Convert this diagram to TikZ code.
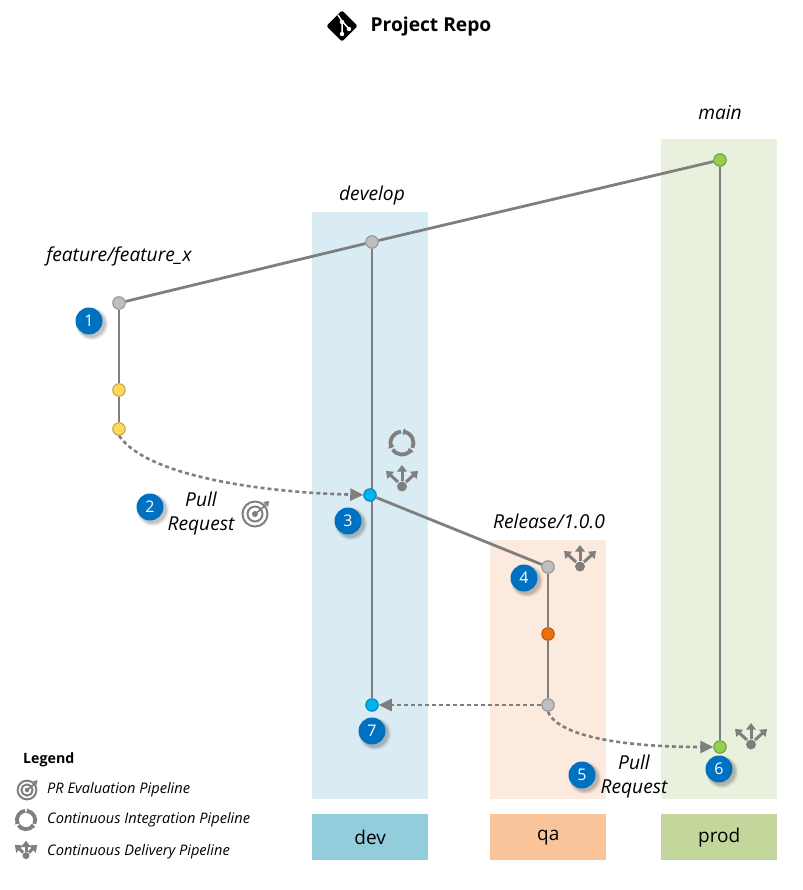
\documentclass[tikz,border=0pt]{standalone}
\usepackage{fontspec}
\setmainfont{Open Sans}
\usetikzlibrary{arrows.meta,shadows}

\definecolor{linegray}{HTML}{7F7F7F}
\definecolor{badgeblue}{HTML}{0070C0}
\definecolor{devband}{HTML}{DAECF3}
\definecolor{qaband}{HTML}{FCEADE}
\definecolor{prodband}{HTML}{E9F0DE}
\definecolor{devfill}{HTML}{92CDDC}
\definecolor{qafill}{HTML}{F9C499}
\definecolor{prodfill}{HTML}{C3D69B}
\definecolor{graydot}{HTML}{BFBFBF}
\definecolor{yellowdot}{HTML}{FFD85C}
\definecolor{bluedot}{HTML}{00B0F0}
\definecolor{greendot}{HTML}{92D050}
\definecolor{orangedot}{HTML}{ED7010}

\begin{document}
\begin{tikzpicture}[x=1pt,y=-1pt,
		band/.style={draw=none, minimum width=116pt, anchor=north west, inner sep=0pt},
		envbox/.style={band, minimum height=46pt, font=\fontsize{19}{22}\selectfont},
		dot/.style={circle, draw=#1!75!black, fill=#1, line width=1pt, minimum size=12.5pt, inner sep=0pt},
		badge/.style={circle, fill=badgeblue, text=white, minimum size=27pt, inner sep=0pt, font=\fontsize{16}{18}\selectfont,
			drop shadow={shadow xshift=2.5pt, shadow yshift=-2.5pt, shadow scale=1.2, fill=black, opacity=.06},
			drop shadow={shadow xshift=2.5pt, shadow yshift=-2.5pt, shadow scale=1.12, fill=black, opacity=.08},
			drop shadow={shadow xshift=2.5pt, shadow yshift=-2.5pt, shadow scale=1.04, fill=black, opacity=.12}},
		branch/.style={font=\fontsize{19.2}{24}\selectfont\itshape, align=center},
		legendtext/.style={anchor=west, inner sep=0pt, font=\fontsize{14.6}{16}\selectfont\itshape},
		commit/.style={draw=linegray, line width=2.8pt},
		merge/.style={draw=linegray, line width=2.6pt, dash pattern=on 4pt off 3pt, -{Triangle[length=13pt,width=12pt]}},
		pics/cdicon/.style={code={
			\fill[linegray] (0,9.5) circle (5pt);
			\draw[linegray, line width=3pt, -{Triangle[length=6.5pt,width=9.5pt]}] (0,4) -- (0,-12);
			\draw[linegray, line width=3pt, -{Triangle[length=6.5pt,width=9.5pt]}] (-4,5) -- (-16,-6);
			\draw[linegray, line width=3pt, -{Triangle[length=6.5pt,width=9.5pt]}] (4,5) -- (16,-6);
		}},
		pics/ciicon/.style={code={
			\draw[linegray, line width=3.8pt] (-85:11.5) arc (-85:25:11.5);
			\draw[linegray, line width=3.8pt] (35:11.5) arc (35:145:11.5);
			\draw[linegray, line width=3.8pt] (155:11.5) arc (155:265:11.5);
			\fill[linegray] (-82:8) -- (-82:15) -- (-62:11.5) -- cycle;
			\fill[linegray] (38:8) -- (38:15) -- (58:11.5) -- cycle;
			\fill[linegray] (158:8) -- (158:15) -- (178:11.5) -- cycle;
		}},
		pics/pricon/.style={code={
			\draw[linegray, line width=2pt] (0,0) circle (12.5pt);
			\draw[linegray, line width=2pt] (0,0) circle (7.5pt);
			\fill[linegray] (0,0) circle (3pt);
			\draw[linegray, line width=1.6pt] (0,0) -- (11,-9);
			\fill[linegray] (8,-12) -- (14,-13) -- (13,-7) -- cycle;
		}}
			]
	\useasboundingbox (0,0) rectangle (802,890);

	\node[band, fill=devband, minimum height=587pt] (devarea) at (312,212) {};
	\node[band, fill=qaband, minimum height=259pt] (qaarea) at (490,540) {};
	\node[band, fill=prodband, minimum height=660pt] (prodarea) at (661,139) {};

	\node[envbox, fill=devfill] (devbox) at (312,814) {dev};
	\node[envbox, fill=qafill] (qabox) at (490,814) {qa};
	\node[envbox, fill=prodfill] (prodbox) at (661,814) {prod};

	% title
	\node[rectangle, rounded corners=2pt, fill=black, minimum size=22pt, inner sep=0pt, rotate=45] (gitlogo) at (342,26) {};
	\draw[white, line width=1.5pt] (338,15) -- (342,21) -- (342,35);
	\draw[white, line width=1.5pt] (342,21) -- (349,29);
	\fill[white] (342,22) circle (2.2pt) (342,34) circle (2.2pt) (349,29) circle (2.2pt);
	\node[font=\fontsize{19.2}{22}\selectfont\bfseries] (title) at (431,27) {Project Repo};

	% branch names
	\node[branch] (mainlabel) at (720,113) {main};
	\node[branch] (devlabel) at (372,196) {develop};
	\node[branch] (featlabel) at (119,256) {feature/feature\_x};
	\node[branch] (rellabel) at (549,521) {Release/1.0.0};
	\node[branch] (prleft) at (201,513) {Pull\\Request};
	\node[branch] (prright) at (634,776) {Pull\\Request};

	% commits
	\node[dot=graydot] (feat1) at (119,303) {};
	\node[dot=yellowdot] (feat2) at (119,390) {};
	\node[dot=yellowdot] (feat3) at (119,429) {};
	\node[dot=graydot] (dev1) at (372,242) {};
	\node[dot=bluedot] (dev3) at (372,705) {};
	\node[dot=greendot] (main1) at (720,160) {};
	\node[dot=greendot] (main2) at (720,747) {};
	\node[dot=graydot] (rel1) at (548,567) {};
	\node[dot=orangedot] (rel2) at (548,634) {};
	\node[dot=graydot] (rel3) at (548,705) {};

	\draw[commit] (feat1) -- (dev1);
	\draw[commit] (dev1) -- (main1);
	\draw[commit] (feat1) -- (feat2);
	\draw[commit] (feat2) -- (feat3);
	\draw[commit] (dev1) -- (dev3);
	\draw[commit] (main1) -- (main2);
	\draw[commit] (rel1) -- (rel2);
	\draw[commit] (rel2) -- (rel3);

	\node[dot=bluedot] (dev2) at (370,495) {};
	\draw[commit] (dev2) -- (rel1);

	\draw[merge] (feat3.south) .. controls (150,480) and (280,493) .. (dev2);
	\draw[merge] (rel3) -- (dev3);
	\draw[merge] (rel3.south) .. controls (560,740) and (640,747) .. (main2);

	% steps
	\node[badge] (step1) at (89,321) {1};
	\node[badge] (step2) at (150,507) {2};
	\node[badge] (step3) at (348,521) {3};
	\node[badge] (step4) at (524,578) {4};
	\node[badge] (step5) at (582,775) {5};
	\node[badge] (step6) at (719,769) {6};
	\node[badge] (step7) at (372,731) {7};

	% pipeline icons
	\pic at (402,443) {ciicon};
	\pic at (402,477) {cdicon};
	\pic at (255,514) {pricon};
	\pic at (580,557) {cdicon};
	\pic at (751,735) {cdicon};

	% legend
	\node[anchor=west, inner sep=0pt, font=\fontsize{14.2}{16}\selectfont\bfseries] (legend) at (23,760) {Legend};
	\pic[scale=.75] at (27,790) {pricon};
	\pic[scale=.8] at (26,820) {ciicon};
	\pic[scale=.7] at (26,849) {cdicon};
	\node[legendtext] (legendpr) at (47,790) {PR Evaluation Pipeline};
	\node[legendtext] (legendci) at (47,820) {Continuous Integration Pipeline};
	\node[legendtext] (legendcd) at (47,852) {Continuous Delivery Pipeline};
\end{tikzpicture}
\end{document}
